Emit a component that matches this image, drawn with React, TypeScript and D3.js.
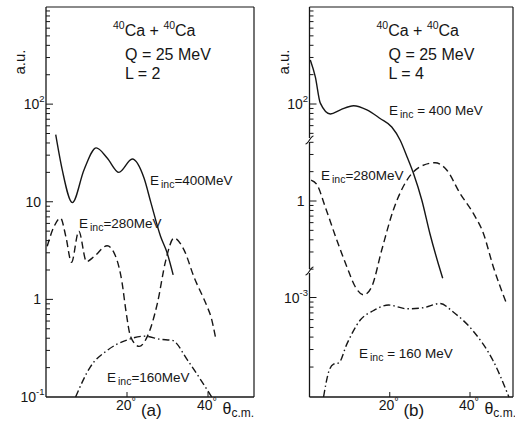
import React from "react";
import * as d3 from "d3";

type Pt = [number, number];

// theta c.m. (deg), cross section (a.u.)
// (a) L = 2
const a400: Pt[] = [
  [2.4, 48.6], [4.0, 21.3], [6.5, 9.8], [9.4, 21.3], [12.4, 35.6], [15.1, 28.1],
  [18.0, 20], [21.3, 27.4], [24.2, 17.5], [25.9, 9.8], [28.3, 4.4], [29.9, 3.0], [31.4, 1.78],
];
const a280: Pt[] = [
  [0.3, 3.5], [2.0, 5.6], [3.6, 6.8], [4.9, 4.4], [6.3, 2.4], [8.1, 5.0], [10.0, 2.44],
  [11.9, 2.75], [15.1, 3.54], [17.2, 2.75], [18.8, 1.47], [19.7, 0.78], [20.9, 0.415],
  [23.0, 0.33], [25.0, 0.415], [27.5, 0.91], [29.6, 2.54], [31.6, 4.25], [34.1, 3.2],
  [36.5, 1.71], [39.8, 0.84], [40.7, 0.67], [41.9, 0.4],
];
const a160: Pt[] = [
  [7.3, 0.1], [11.0, 0.205], [15.1, 0.3], [20.1, 0.385], [24.2, 0.42], [28.3, 0.39],
  [31.2, 0.38], [34.9, 0.24], [38.2, 0.15], [40.9, 0.1],
];
// (b) L = 4 (each curve has its own piece of the broken axis)
const b400: Pt[] = [
  [0.2, 283], [1.45, 190], [2.7, 102], [5.2, 79], [7.7, 87], [11.0, 96], [14.3, 87],
  [17.6, 71], [20.5, 58], [22.6, 42.5], [24.3, 28.8], [25.9, 19.5], [28.0, 10.3],
  [30.0, 4.7], [32.1, 2.3], [33.2, 1.63],
];
const b280: Pt[] = [
  [0.4, 1.64], [1.9, 1.46], [3.9, 0.875], [6.8, 0.398], [9.3, 0.212], [11.4, 0.132],
  [13.5, 0.109], [15.5, 0.132], [18.0, 0.314], [20.9, 0.81], [24.3, 1.64], [27.6, 2.25],
  [31.3, 2.47], [34.2, 2.08], [37.5, 1.2], [40.8, 0.75], [43.3, 0.47], [45.8, 0.212], [49.1, 0.089],
];
const b160: Pt[] = [
  [3.5, 1e-4], [4.8, 1.8e-4], [6.0, 2.14e-4], [7.3, 2.2e-4], [9.3, 3.4e-4], [12.6, 5.9e-4],
  [16.0, 7.4e-4], [19.7, 8.4e-4], [24.3, 7.7e-4], [28.4, 7.9e-4], [32.5, 8.7e-4],
  [35.9, 7.1e-4], [40.8, 4.6e-4], [45.8, 2.3e-4], [49.7, 1e-4],
];

const xTicks = [20, 40];
const energies = ["400", "280", "160"];

const ink = "#161616";
const font = "'Liberation Sans', Arial, sans-serif";
const TOP = 7;
const BOTTOM = 397;

type Seg = {
  scale: d3.ScaleLogarithmic<number, number>;
  top: number;
  bottom: number;
  labels: { v: number; base: string; exp?: string }[];
};

function minorTicks(seg: Seg) {
  const out: { y: number; major: boolean }[] = [];
  for (let d = -6; d <= 4; d++) {
    for (let k = 1; k <= 9; k++) {
      const y = seg.scale(k * Math.pow(10, d));
      if (y >= seg.top + 1 && y <= seg.bottom - 1) out.push({ y, major: k === 1 });
    }
  }
  return out;
}

function Einc({ x, y, e, spaced }: { x: number; y: number; e: string; spaced?: boolean }) {
  return (
    <text x={x} y={y} fontSize={13.5} fill={ink} fontFamily={font}>
      E
      <tspan dx={2} dy={3} fontSize={10.5}>inc</tspan>
      <tspan dy={-3}>{spaced ? ` = ${e} MeV` : `=${e}MeV`}</tspan>
    </text>
  );
}

type PanelProps = {
  left: number;
  right: number;
  x: d3.ScaleLinear<number, number>;
  segs: Seg[];
  breaks: number[];
  curves: { data: Pt[]; scale: d3.ScaleLogarithmic<number, number>; dash?: string }[];
  lval: string;
  tag: string;
  labelPos: Pt[];
  spaced: boolean[];
};

function Panel({ left, right, x, segs, breaks, curves, lval, tag, labelPos, spaced }: PanelProps) {
  // left axis drawn in pieces, gaps at the breaks
  const cuts = [TOP, ...breaks, BOTTOM];
  return (
    <g>
      <line x1={left} x2={right} y1={TOP} y2={TOP} stroke={ink} strokeWidth={1.2} />
      <line x1={left} x2={right} y1={BOTTOM} y2={BOTTOM} stroke={ink} strokeWidth={1.3} />
      <line x1={right} x2={right} y1={TOP} y2={BOTTOM} stroke={ink} strokeWidth={1.2} />
      {cuts.slice(0, -1).map((c, i) => (
        <line
          key={i}
          x1={left}
          x2={left}
          y1={i === 0 ? c : c + 2}
          y2={i === cuts.length - 2 ? cuts[i + 1] : cuts[i + 1] - 2}
          stroke={ink}
          strokeWidth={1.3}
        />
      ))}
      {breaks.map((b) => (
        <path
          key={b}
          d={`M${left - 4},${b + 4} C${left - 1},${b + 4} ${left + 1},${b - 4} ${left + 4},${b - 4}`}
          fill="none"
          stroke={ink}
          strokeWidth={1.2}
        />
      ))}
      {segs.map((s, i) => (
        <g key={i}>
          {minorTicks(s).map((t, j) => (
            <line key={j} x1={left} x2={left + (t.major ? 7 : 4)} y1={t.y} y2={t.y} stroke={ink} strokeWidth={1} />
          ))}
          {s.labels.map((l) => (
            <text
              key={l.v}
              x={l.exp ? left - 1.5 : left - 5}
              y={s.scale(l.v) + 5}
              fontSize={14}
              textAnchor="end"
              fontFamily={font}
              fill={ink}
            >
              {l.base}
              {l.exp && (
                <tspan dy={-7} fontSize={9.5}>{l.exp}</tspan>
              )}
            </text>
          ))}
        </g>
      ))}
      {xTicks.map((t) => (
        <g key={t}>
          <line x1={x(t)} x2={x(t)} y1={BOTTOM} y2={BOTTOM - 5} stroke={ink} strokeWidth={1} />
          <text x={x(t) - 1} y={BOTTOM + 13} fontSize={14} textAnchor="middle" fontFamily={font} fill={ink}>
            {t}
            <tspan dy={-5} fontSize={11}>°</tspan>
          </text>
        </g>
      ))}
      <text x={x(26)} y={BOTTOM + 19} fontSize={17} textAnchor="middle" fontFamily={font} fill={ink}>
        {tag}
      </text>
      <text x={x(43.6)} y={BOTTOM + 17} fontSize={16} fontFamily={font} fill={ink}>
        θ<tspan dy={3} fontSize={12}>c.m.</tspan>
      </text>
      <text
        transform={`translate(${left - 21},${62}) rotate(-90)`}
        fontSize={15}
        textAnchor="middle"
        fontFamily={font}
        fill={ink}
      >
        a.u.
      </text>
      <g fontFamily={font} fill={ink}>
        <text x={left + 67} y={36} fontSize={16}>
          <tspan fontSize={10.5} dy={-7}>40</tspan>
          <tspan dy={7}>Ca + </tspan>
          <tspan fontSize={10.5} dy={-7}>40</tspan>
          <tspan dy={7}>Ca</tspan>
        </text>
        <text x={left + 79} y={60} fontSize={16}>Q = 25 MeV</text>
        <text x={left + 79} y={79} fontSize={16}>{`L = ${lval}`}</text>
      </g>
      {curves.map((c, i) => {
        const line = d3
          .line<Pt>()
          .x((d) => x(d[0]))
          .y((d) => c.scale(d[1]))
          .curve(d3.curveMonotoneX);
        return (
          <path
            key={i}
            d={line(c.data) || ""}
            fill="none"
            stroke={ink}
            strokeWidth={1.4}
            strokeDasharray={c.dash}
          />
        );
      })}
      {energies.map((e, i) => (
        <Einc key={e} x={labelPos[i][0]} y={labelPos[i][1]} e={e} spaced={spaced[i]} />
      ))}
    </g>
  );
}

export default function App() {
  const dash = "7 4";
  const dashDot = "7 3 1.5 3";

  // (a)
  const xa = d3.scaleLinear().domain([0, 40]).range([46, 208]);
  const ya = d3.scaleLog().domain([0.1, 1000]).range([BOTTOM, 6.5]);
  const segA: Seg[] = [
    {
      scale: ya,
      top: TOP,
      bottom: BOTTOM,
      labels: [
        { v: 100, base: "10", exp: "2" },
        { v: 10, base: "10" },
        { v: 1, base: "1" },
        { v: 0.1, base: "10", exp: "-1" },
      ],
    },
  ];

  // (b) broken axis, three pieces
  const xb = d3.scaleLinear().domain([0, 40]).range([309.5, 470]);
  const yUp = d3.scaleLog().domain([100, 1000]).range([104, 6.5]);
  const yMid = d3.scaleLog().domain([1, 10]).range([201, 103.5]);
  const yLow = d3.scaleLog().domain([1e-4, 1e-3]).range([BOTTOM, 297.5]);
  const breaks = [140, 271];
  const segB: Seg[] = [
    { scale: yUp, top: TOP, bottom: breaks[0], labels: [{ v: 100, base: "10", exp: "2" }] },
    { scale: yMid, top: breaks[0], bottom: breaks[1], labels: [{ v: 1, base: "1" }] },
    { scale: yLow, top: breaks[1], bottom: BOTTOM, labels: [{ v: 1e-3, base: "10", exp: "-3" }] },
  ];

  return (
    <svg
      width={515}
      height={421}
      style={{ position: "absolute", left: 0, top: 0, background: "#fff" }}
    >
      <Panel
        left={46}
        right={254}
        x={xa}
        segs={segA}
        breaks={[]}
        curves={[
          { data: a400, scale: ya },
          { data: a280, scale: ya, dash },
          { data: a160, scale: ya, dash: dashDot },
        ]}
        lval="2"
        tag="(a)"
        labelPos={[[150, 185], [79, 228], [107, 382]]}
        spaced={[false, false, false]}
      />
      <Panel
        left={309.5}
        right={513}
        x={xb}
        segs={segB}
        breaks={breaks}
        curves={[
          { data: b400, scale: yUp },
          { data: b280, scale: yMid, dash },
          { data: b160, scale: yLow, dash: dashDot },
        ]}
        lval="4"
        tag="(b)"
        labelPos={[[389, 115], [321, 180], [359, 358]]}
        spaced={[true, false, true]}
      />
    </svg>
  );
}
